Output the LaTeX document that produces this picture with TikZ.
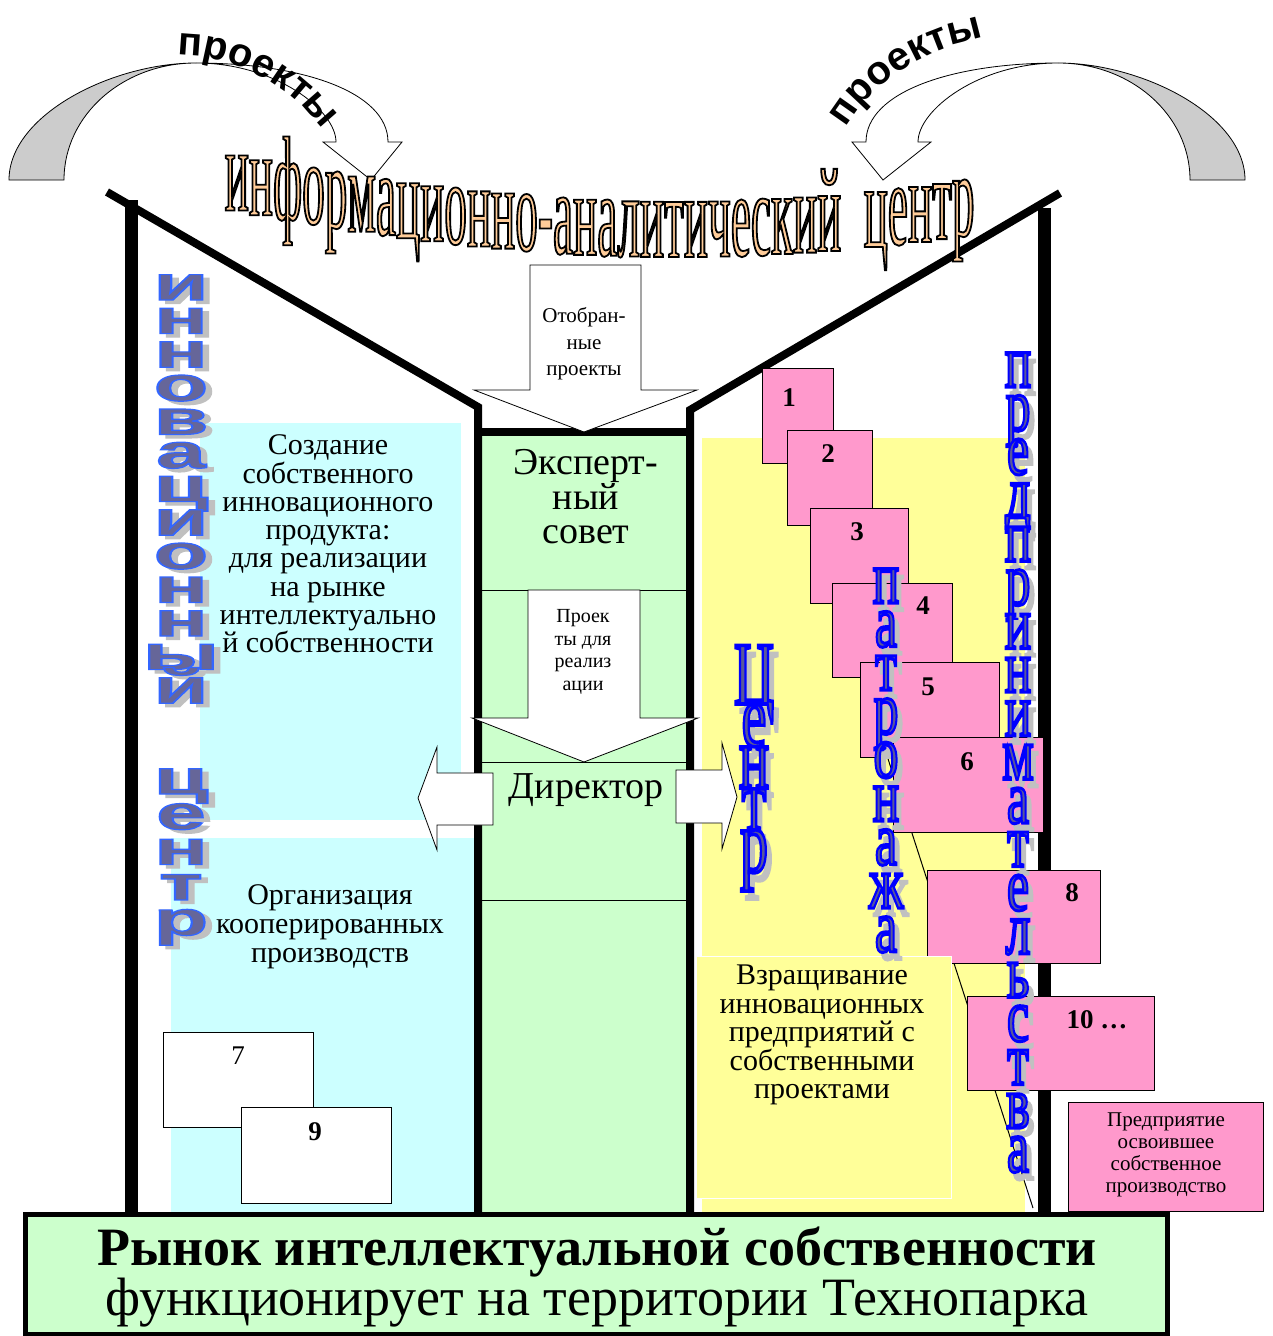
\documentclass[tikz,border=0pt]{standalone}
\usepackage{fontspec}
\usepackage{graphicx}
\setmainfont{Liberation Serif}
\newfontfamily\artfont{Liberation Sans}
\newfontfamily\titlefont[FakeStretch=0.37,FakeBold=1.5]{Liberation Serif}
\newfontfamily\wideartfont[FakeBold=2.5]{Liberation Sans Bold}
\newfontfamily\tallartfont[FakeBold=4]{Liberation Serif}
\usetikzlibrary{decorations.text}

\definecolor{cyanbg}{HTML}{CCFFFF}
\definecolor{greenbg}{HTML}{CCFFCC}
\definecolor{yellowbg}{HTML}{FFFF99}
\definecolor{pinkbox}{HTML}{FF99CC}
\definecolor{arcgray}{HTML}{CCCCCC}
\definecolor{shade}{HTML}{C0C0C0}

% text filled with one rgb colour and outlined with another
\newcommand\duo[3]{\special{pdf:bcolor [#1] [#2]}#3\special{pdf:ecolor}}
% outlined letter with shadow: fill, outline, shadow colour, shadow shift, letter
\newcommand\wordart[5]{\rlap{\kern#4\raisebox{-#4}{\color{#3}#5}}\duo{#1}{#2}{#5}}
\newcommand\wideletter[1]{\scalebox{1.85}[1]{\wideartfont\fontsize{48}{48}\selectfont
  \wordart{0.4 0.4 0.6}{0.2 0.4 1}{shade}{3.5pt}{#1}}}
\newcommand\tallletter[3]{\scalebox{1}[#2]{\tallartfont\fontsize{#1}{#1}\selectfont
  \wordart{0.35 0.35 0.6}{0 0 1}{shade}{5pt}{#3}}}
\newcommand\titleletter[1]{\titlefont\fontsize{120}{120}\selectfont\duo{1 0.8 0.6}{0 0 0}{#1}}

% curved arrow with its grey back
\newcommand\projarrow{%
  \draw[fill=arcgray,line width=0.8pt] (9,180) .. controls (9,115) and (112,63) .. (196,63)
     .. controls (123,63) and (64,115) .. (64,180) -- cycle;
  \draw[fill=white,line width=0.8pt,line join=miter] (196,63) .. controls (302,63) and (388,92) .. (388,142)
     -- (402,142) -- (371,180) -- (323,142) -- (336,142)
     .. controls (336,110) and (275,63) .. (196,63) -- cycle;
}

\begin{document}
\begin{tikzpicture}[x=1pt,y=-1pt,
  wall/.style={line width=13pt},
  roof/.style={line width=8pt},
  bigarrow/.style={draw,fill=white,line width=0.8pt,line join=miter},
  numbox/.style={draw,fill=pinkbox,line width=1pt},
  plainbox/.style={draw,fill=white,line width=1pt},
  txt/.style={align=center,inner sep=0pt},
  num/.style={inner sep=0pt,font=\fontsize{27}{27}\selectfont\bfseries},
  letter/.style={anchor=base,inner sep=0pt},
  projtext/.style={decorate,decoration={text along path,text align=center,
    text={|\artfont\bfseries\fontsize{40}{40}\selectfont|проекты}}}]
\useasboundingbox (0,0) rectangle (1272,1336);
\fill[white] (0,0) rectangle (1272,1336);

% top arrows
\projarrow
\begin{scope}[shift={(1254,0)},xscale=-1]
\projarrow
\end{scope}
\path[projtext] (178,55) .. controls (235,55) and (290,85) .. (322,130);
\path[projtext] (846,128) .. controls (872,84) and (922,49) .. (984,38);

% backgrounds
\fill[cyanbg] (200,423) rectangle (461,820);
\fill[cyanbg] (171,838) rectangle (474,1212);
\fill[yellowbg] (702,438) rectangle (1025,1212);
\fill[greenbg] (478,432) rectangle (690,1212);

% walls
\draw[roof] (107,192) -- (478,407) -- (478,1212);
\draw[roof] (1060,193) -- (690,410) -- (690,1212);
\draw[roof] (474,432) -- (694,432);
\draw[wall] (131,200) -- (131,1212);
\draw[wall] (1044,208) -- (1044,1212);
\draw[line width=1pt] (478,590) -- (690,590) (478,762) -- (690,762) (478,900) -- (690,900);

% block arrows
\draw[bigarrow] (530,265) -- (641,265) -- (641,390) -- (697,390) -- (584,432) -- (474,390) -- (530,390) -- cycle;
\draw[bigarrow] (528,590) -- (640,590) -- (640,718) -- (698,718) -- (584,762) -- (472,718) -- (528,718) -- cycle;
\draw[bigarrow] (493,773) -- (437,773) -- (437,747) -- (418,798) -- (437,850) -- (437,825) -- (493,825) -- cycle;
\draw[bigarrow] (676,770) -- (722,770) -- (722,743) -- (737,797) -- (722,849) -- (722,823) -- (676,823) -- cycle;

\draw[line width=1pt] (798,480) -- (1033,1208);

% project boxes
\draw[numbox] (762,368) rectangle (833,463);
\draw[numbox] (787,430) rectangle (872,525);
\draw[numbox] (810,508) rectangle (908,603);
\draw[numbox] (832,583) rectangle (952,677);
\draw[numbox] (860,662) rectangle (999,757);
\draw[numbox] (893,737) rectangle (1043,832);
\draw[numbox] (927,870) rectangle (1100,963);
\draw[numbox] (967,996) rectangle (1154,1090);
\draw[numbox] (1068,1102) rectangle (1263,1211);
\draw[plainbox] (163,1032) rectangle (313,1127);
\draw[plainbox] (241,1107) rectangle (391,1203);
\draw[draw=white,fill=yellowbg,line width=1pt] (696,956) rectangle (951,1198);

\node[num] (n1) at (789,398) {1};
\node[num] (n2) at (828,454) {2};
\node[num] (n3) at (857,532) {3};
\node[num] (n4) at (923,606) {4};
\node[num] (n5) at (928,687) {5};
\node[num] (n6) at (967,762) {6};
\node[num] (n8) at (1072,893) {8};
\node[num] (n10) at (1097,1020) {10 …};
\node[num,font=\fontsize{27}{27}\selectfont] (n7) at (238,1056) {7};
\node[num] (n9) at (315,1132) {9};

% texts
\node[txt,font=\fontsize{21}{26.5}\selectfont] (chosen) at (584,344) {Отобран-\\ные\\проекты};
\node[txt,font=\fontsize{38}{34}\selectfont] (expert) at (586,497) {Эксперт-\\ный\\совет};
\node[txt,font=\fontsize{20}{22.5}\selectfont] (torealize) at (583,652) {Проек\\ты для\\реализ\\ации};
\node[txt,font=\fontsize{38}{38}\selectfont] (director) at (586,790) {Директор};
\node[txt,font=\fontsize{30}{28.3}\selectfont] (own) at (328,544) {Создание\\собственного\\инновационного\\продукта:\\для реализации\\на рынке\\интеллектуально\\й собственности};
\node[txt,font=\fontsize{30}{29}\selectfont] (coop) at (330,927) {Организация\\кооперированных\\производств};
\node[txt,font=\fontsize{30}{28.5}\selectfont] (grow) at (822,1035) {Взращивание\\инновационных\\предприятий с\\собственными\\проектами};
\node[txt,font=\fontsize{21}{22}\selectfont] (firm) at (1166,1155) {Предприятие\\освоившее\\собственное\\производство};

% title, letter by letter on a sagging baseline
\node[inner sep=0pt] (tl0) at (224,208) {};
\foreach \ch [count=\i, remember=\i as \j (initially 0),
    evaluate=\i as \yy using {-2.535*((213+22.4*\i-600)/100)^2+3.234*((213+22.4*\i-600)/100)+256}]
    in {и,н,ф,о,р,м,а,ц,и,о,н,н,о,-,а,н,а,л,и,т,и,ч,е,с,к,и,й,\hspace{22pt},ц,е,н,т,р}
  \node[anchor=base west,inner sep=0pt] (tl\i) at (tl\j.base east |- 0,\yy) {\titleletter{\ch}};

% vertical words
\foreach \ch [count=\i from 0] in {и,н,н,о,в,а,ц,и,о,н,н,ы,й}
  \node[letter] (inn\i) at (181,300+33.6*\i) {\wideletter{\ch}};
\foreach \ch [count=\i from 0] in {ц,е,н,т,р}
  \node[letter] (ctr\i) at (181,794+35.3*\i) {\wideletter{\ch}};
\foreach \ch [count=\i from 0] in {Ц,е,н,т,р}
  \node[letter] (cen\i) at (754,704+42*\i) {\tallletter{56}{1.6}{\ch}};
\foreach \ch [count=\i from 0] in {п,а,т,р,о,н,а,ж,а}
  \node[letter] (pat\i) at (886,603+43.6*\i) {\tallletter{50}{1.5}{\ch}};
\foreach \ch [count=\i from 0] in {п,р,е,д,п,р,и,н,и,м,а,т,е,л,ь,с,т,в,а}
  \node[letter] (ent\i) at (1018,387+43.6*\i) {\tallletter{50}{1.5}{\ch}};

% market box
\draw[line width=5pt,fill=greenbg] (25,1214) rectangle (1167,1334);
\node[anchor=base,inner sep=0pt,font=\fontsize{54}{54}\selectfont\bfseries] (market) at (597,1265) {Рынок интеллектуальной собственности};
\node[anchor=base,inner sep=0pt,font=\fontsize{54}{54}\selectfont] (works) at (597,1315) {функционирует на территории Технопарка};
\end{tikzpicture}
\end{document}
